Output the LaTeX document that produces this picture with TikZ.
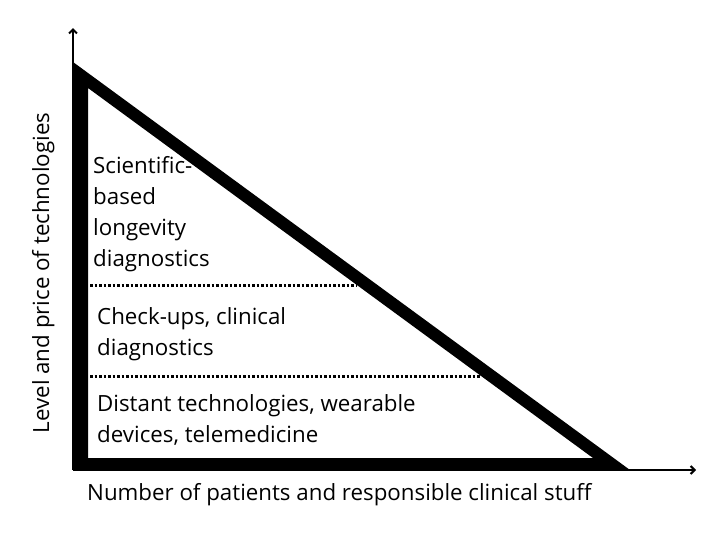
\documentclass[tikz,border=0pt]{standalone}
\usepackage{fontspec}
\setmainfont{Open Sans}
\usetikzlibrary{arrows.meta}
\begin{document}
\begin{tikzpicture}[x=1pt,y=-1pt,
  lbl/.style={inner sep=0pt,align=left,font=\fontsize{22.3}{31}\selectfont},
  axis/.style={line width=2pt,-{Straight Barb[length=4pt,width=8pt]}},
  sep/.style={line width=3pt,dash pattern=on 2.6pt off 1.9pt}]
\useasboundingbox[fill=white] (0,0) rectangle (719,539);
% axes
\coordinate (O) at (73,470);
\coordinate (ytop) at (73,28);
\coordinate (xend) at (696,470);
\draw[axis] (O) -- (ytop);
\draw[axis] (O) -- (xend);
% thick triangle
\fill[even odd rule] (73,62) -- (73,470) -- (630,470) -- cycle
  (88,88) -- (88,458) -- (593,458) -- cycle;
% separators
\coordinate (s1a) at (90,285);
\coordinate (s1b) at (357,285);
\coordinate (s2a) at (90,376);
\coordinate (s2b) at (480,376);
\draw[sep] (s1a) -- (s1b);
\draw[sep] (s2a) -- (s2b);
% texts (base anchor = baseline of last line)
\node[lbl,anchor=base west] (t1) at (93,266) {Scientific-\\based\\longevity\\diagnostics};
\node[lbl,anchor=base west] (t2) at (97,355) {Check-ups, clinical\\diagnostics};
\node[lbl,anchor=base west] (t3) at (97,442) {Distant technologies, wearable\\devices, telemedicine};
\node[lbl,anchor=base west] (xl) at (87,500) {Number of patients and responsible clinical stuff};
\node[lbl,anchor=base,rotate=90] (yl) at (49,273) {Level and price of technologies};
\end{tikzpicture}
\end{document}
